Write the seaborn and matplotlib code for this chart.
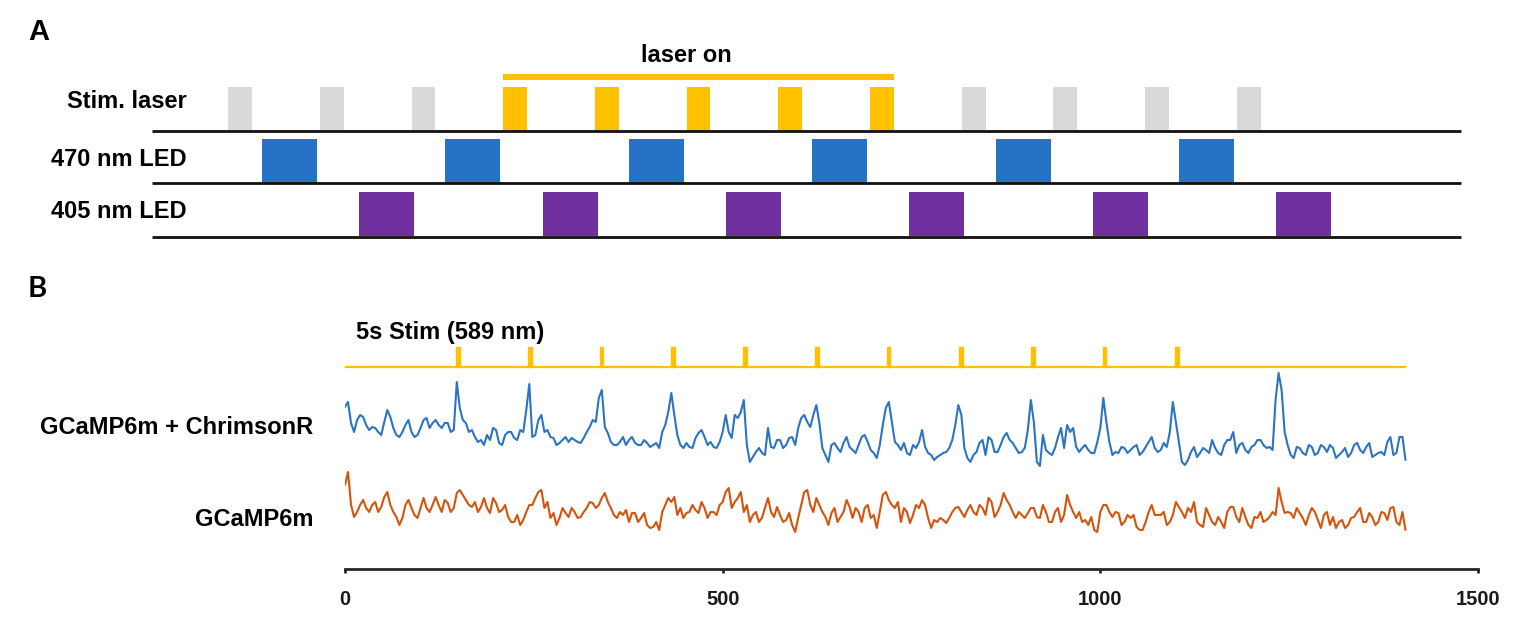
import numpy as np
import pandas as pd
import matplotlib
matplotlib.use("Agg")
import matplotlib.pyplot as plt
import seaborn as sns

# ---------------- Panel A: timing diagram (arbitrary time units) ----------------
stim_onsets = [8.3, 18.3, 28.3, 38.3, 48.3, 58.3, 68.3, 78.3, 88.3, 98.3, 108.3, 118.3]
stim_laser_on = [False, False, False, True, True, True, True, True, False, False, False, False]
stim_width = 2.6
led470_onsets = [12, 32, 52, 72, 92, 112]
led405_onsets = [22.6, 42.6, 62.6, 82.6, 102.6, 122.6]
led_width = 6.0
timeline_end = 142.8
row_labels = ["Stim. laser", "470 nm LED", "405 nm LED"]

# ---------------- Panel B: photometry traces (a.u.) ----------------
stim_b_onsets = [147, 242, 337, 432, 527, 622, 717, 813, 908, 1003, 1099]
stim_b_duration = 5
record_end = 1405
sample_step = 4
chrimson_trace = [
    53, 58, 37, 28, 40, 45, 43, 35, 30, 33, 32, 28, 25, 38, 50, 43, 32, 25, 23, 28,
    35, 40, 28, 23, 25, 32, 40, 42, 32, 37, 40, 35, 32, 37, 37, 28, 30, 78, 52, 40,
    37, 28, 30, 23, 18, 20, 15, 25, 20, 32, 30, 17, 15, 25, 28, 28, 22, 20, 30, 28,
    50, 76, 23, 25, 40, 45, 28, 30, 23, 22, 15, 17, 20, 23, 18, 22, 20, 18, 17, 22,
    28, 33, 40, 38, 62, 70, 33, 27, 18, 15, 15, 18, 23, 15, 20, 23, 17, 15, 15, 20,
    17, 13, 15, 17, 12, 28, 35, 48, 67, 45, 25, 15, 12, 17, 13, 12, 22, 27, 30, 23,
    15, 18, 13, 12, 18, 28, 45, 28, 22, 45, 42, 48, 60, 15, -2, 3, 8, 12, 7, 5,
    32, 13, 12, 20, 20, 12, 15, 22, 23, 15, 32, 42, 45, 38, 33, 45, 55, 37, 12, 5,
    -2, 15, 17, 12, 8, 17, 23, 13, 10, 7, 15, 23, 25, 18, 10, 7, 2, 15, 35, 52,
    58, 38, 18, 15, 10, 17, 7, 5, 15, 12, 18, 30, 13, 7, 5, 0, 3, 5, 7, 8,
    12, 20, 35, 55, 45, 12, 2, -2, 5, 8, 17, 20, 5, 23, 20, 8, 8, 15, 23, 27,
    20, 17, 12, 7, 8, 12, 30, 60, 38, -2, -6, 25, 10, 7, 5, 12, 23, 32, 12, 35,
    28, 32, 13, 8, 12, 15, 10, 7, 7, 18, 32, 62, 38, 18, 5, 8, 7, 13, 12, 7,
    10, 13, 15, 5, 8, 13, 18, 23, 12, 8, 10, 17, 13, 28, 58, 38, 18, -2, -5, 0,
    8, 13, 3, 7, 12, 10, 7, 20, 12, 7, 5, 15, 20, 20, 28, 7, 15, 17, 10, 7,
    13, 15, 20, 20, 15, 12, 13, 10, 60, 87, 70, 28, 15, 5, 2, 13, 12, 7, 5, 15,
    13, 5, 7, 15, 13, 8, 15, 12, 2, 5, 8, 12, 3, 7, 15, 17, 10, 7, 13, 17,
    3, 5, 7, 8, 5, 18, 23, 5, 7, 23, 23, 0,
]
gcamp_trace = [
    55, 68, 35, 23, 28, 35, 40, 32, 28, 35, 38, 28, 33, 43, 48, 35, 28, 23, 15, 22,
    35, 40, 32, 25, 22, 32, 42, 32, 28, 35, 43, 35, 28, 40, 37, 28, 32, 47, 50, 45,
    40, 35, 33, 38, 28, 33, 42, 32, 27, 42, 37, 28, 30, 35, 23, 18, 18, 25, 15, 20,
    28, 35, 35, 42, 48, 50, 32, 38, 22, 27, 15, 22, 32, 27, 23, 32, 28, 22, 23, 28,
    32, 38, 37, 32, 35, 42, 47, 38, 32, 25, 22, 28, 25, 30, 18, 27, 27, 18, 22, 27,
    15, 12, 13, 18, 10, 28, 35, 42, 38, 43, 25, 32, 22, 27, 28, 35, 30, 27, 38, 32,
    22, 28, 28, 25, 35, 38, 48, 52, 32, 38, 42, 48, 28, 35, 18, 25, 28, 18, 22, 32,
    42, 28, 23, 33, 25, 18, 20, 27, 15, 8, 22, 35, 48, 50, 35, 28, 42, 35, 28, 23,
    15, 27, 32, 18, 23, 28, 40, 33, 22, 32, 28, 18, 32, 35, 22, 25, 12, 28, 45, 48,
    40, 35, 32, 38, 18, 32, 28, 17, 25, 35, 32, 40, 35, 22, 12, 20, 18, 22, 20, 17,
    22, 28, 32, 33, 28, 23, 30, 35, 28, 25, 35, 32, 25, 42, 38, 23, 28, 35, 47, 40,
    35, 28, 22, 28, 25, 22, 27, 32, 32, 23, 22, 35, 28, 18, 18, 28, 32, 18, 25, 45,
    35, 28, 22, 28, 18, 20, 15, 23, 10, 8, 28, 35, 35, 28, 23, 28, 27, 15, 18, 25,
    22, 25, 13, 10, 10, 18, 28, 35, 25, 25, 25, 28, 15, 18, 25, 38, 33, 28, 22, 32,
    28, 38, 18, 15, 13, 32, 25, 18, 15, 23, 18, 12, 28, 33, 33, 23, 18, 32, 23, 15,
    12, 23, 22, 28, 18, 20, 23, 28, 25, 52, 38, 27, 28, 27, 22, 32, 27, 22, 15, 25,
    32, 28, 20, 12, 25, 28, 15, 23, 12, 18, 20, 12, 15, 22, 23, 28, 32, 18, 18, 27,
    23, 15, 18, 28, 27, 20, 32, 33, 18, 15, 28, 10,
]
trace_labels = ["GCaMP6m + ChrimsonR", "GCaMP6m"]
xticks = [0, 500, 1000, 1500]

# ---------------- colours ----------------
c_grey = "#D9D9D9"
c_yellow = "#FFC000"
c_blue_bar = "#2672C4"
c_purple = "#7030A0"
c_blue_line = "#2B74C4"
c_orange_line = "#D5540C"

sns.set_theme(style="white")
plt.rcParams["font.family"] = ["Liberation Sans", "DejaVu Sans"]
plt.rcParams["font.weight"] = "bold"

W, H = 1524, 624
fig = plt.figure(figsize=(W / 100, H / 100), dpi=100)
fig.patch.set_facecolor("white")

# ---------------- Panel A ----------------
px_per_t = 9.17
x0_px = 152
top_h = 260
ax_a = fig.add_axes([0, 1 - top_h / H, 1, top_h / H])
ax_a.set_xlim(-x0_px / px_per_t, (W - x0_px) / px_per_t)
ax_a.set_ylim(top_h, 0)
ax_a.axis("off")

row_base = [131, 183, 237]
bar_h = 44

stim_colors = [c_yellow if on else c_grey for on in stim_laser_on]
ax_a.bar(stim_onsets, -bar_h, width=stim_width, bottom=row_base[0], align="edge",
         color=stim_colors, linewidth=0)
ax_a.bar(led470_onsets, -bar_h, width=led_width, bottom=row_base[1], align="edge",
         color=c_blue_bar, linewidth=0)
ax_a.bar(led405_onsets, -bar_h, width=led_width, bottom=row_base[2] - 1, align="edge",
         color=c_purple, linewidth=0)
ax_a.hlines(row_base, 0, timeline_end, color="#111111", linewidth=2.0)

on_times = [t for t, on in zip(stim_onsets, stim_laser_on) if on]
on_start = on_times[0]
on_end = on_times[-1] + stim_width
ax_a.bar([on_start], [6], width=on_end - on_start, bottom=74, align="edge",
         color=c_yellow, linewidth=0)
ax_a.text((686 - x0_px) / px_per_t, 56, "laser on", ha="center", va="center",
          fontsize=17, fontweight="bold", color="black")

label_t = (187 - x0_px) / px_per_t
for lab, yc in zip(row_labels, [102, 159, 211]):
    ax_a.text(label_t, yc, lab, ha="right", va="center", fontsize=17,
              fontweight="bold", color="black")

fig.text(28 / W, 1 - 32 / H, "A", ha="left", va="center", fontsize=21,
         fontweight="bold", color="black")

# ---------------- Panel B ----------------
axis_px = 569
top_px = 340
ax_b = fig.add_axes([345 / W, (H - axis_px) / H, 1133 / W, (axis_px - top_px) / H])
ax_b.set_xlim(0, 1500)
ax_b.set_ylim(0, axis_px - top_px)

t = np.arange(len(chrimson_trace)) * sample_step
df = pd.DataFrame({
    "time": np.concatenate([t, t]),
    "signal": np.concatenate([np.array(chrimson_trace) + 109, np.array(gcamp_trace) + 29]),
    "group": [trace_labels[0]] * len(t) + [trace_labels[1]] * len(t),
})
sns.lineplot(data=df, x="time", y="signal", hue="group", units="group",
             estimator=None, sort=False, palette=[c_blue_line, c_orange_line],
             linewidth=1.5, legend=False, ax=ax_b)

# stimulation trace
stim_base = 202
ax_b.hlines(stim_base, 0, record_end, color=c_yellow, linewidth=1.6)
ax_b.bar(stim_b_onsets, 20, width=stim_b_duration, bottom=stim_base, align="edge",
         color=c_yellow, edgecolor=c_yellow, linewidth=1.0)

for s in ["left", "top", "right"]:
    ax_b.spines[s].set_visible(False)
ax_b.spines["bottom"].set_linewidth(2.0)
ax_b.spines["bottom"].set_color("#262626")
ax_b.set_xticks(xticks)
ax_b.set_xticklabels([str(x) for x in xticks])
ax_b.set_yticks([])
ax_b.tick_params(axis="x", bottom=True, length=3, width=2, color="#262626",
                 labelsize=14.5, pad=12, labelcolor="#1a1a1a")
for lab in ax_b.get_xticklabels():
    lab.set_fontweight("bold")
ax_b.set_xlabel("")
ax_b.set_ylabel("")
ax_b.patch.set_alpha(0)

fig.text(356 / W, 1 - 333 / H, "5s Stim (589 nm)", ha="left", va="center",
         fontsize=17, fontweight="bold", color="black")
fig.text(313 / W, 1 - 427 / H, trace_labels[0], ha="right", va="center",
         fontsize=17, fontweight="bold", color="black")
fig.text(313 / W, 1 - 519 / H, trace_labels[1], ha="right", va="center",
         fontsize=17, fontweight="bold", color="black")
fig.text(28 / W, 1 - 289 / H, "B", ha="left", va="center", fontsize=21,
         fontweight="bold", color="black", family=["Lato", "DejaVu Sans"])

fig.savefig("out.png", dpi=100, facecolor="white")
